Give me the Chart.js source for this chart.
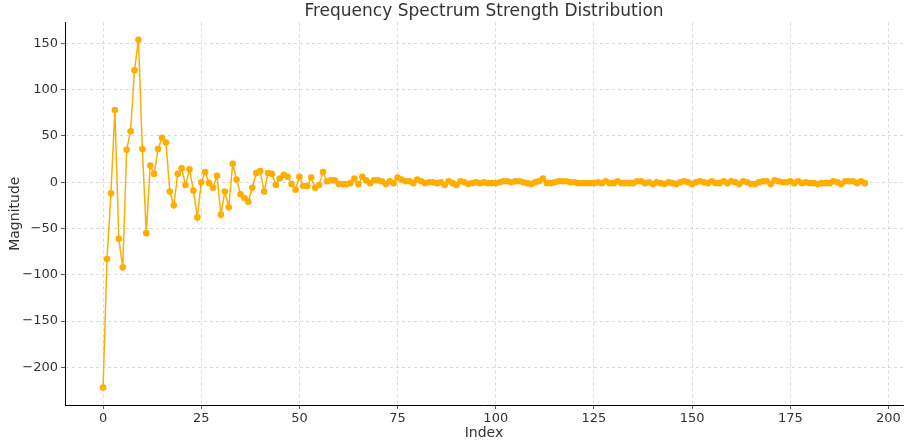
<!DOCTYPE html>
<html lang="en">
<head>
  <meta charset="UTF-8">
  <title>Frequency Spectrum Strength Distribution</title>
  <script src="https://cdn.jsdelivr.net/npm/chart.js"></script>
  <style>
    body { margin: 0; background: #fff; font-family: "DejaVu Sans", sans-serif; }
    #wrap { width: 904px; height: 442px; }
  </style>
</head>
<body>
  <div id="wrap"><canvas id="spectrumChart" width="904" height="442"></canvas></div>
  <script>
    // magnitude per index
    const magnitudes = [
      -222, -83, -12, 78, -61, -92, 35, 55, 121, 154,
      36, -55, 18, 9, 36, 48, 43, -10, -25, 9,
      15, -3, 14, -9, -38, 0, 11, -1, -6, 7,
      -35, -10, -27, 20, 3, -13, -17, -21, -6, 10,
      12, -10, 10, 9, -3, 4, 8, 6, -2, -8,
      6, -4, -4, 5, -6, -3, 11, 1, 2, 2,
      -2, -2, -2, -1, 4, -2, 6, 2, -1, 2,
      2, 1, -2, 1, -1, 5, 3, 1, 1, -1,
      3, 1, -1, 0, 0, -1, 0, -3, 1, -1,
      -3, 1, 0, -2, -1, 0, -1, 0, -1, -1,
      -1, 0, 1, 1, 0, 1, 1, 0, -1, -2,
      0, 1, 4, -1, -1, 0, 1, 1, 1, 0,
      0, -1, -1, -1, -1, -1, 0, -1, 1, -1,
      -1, 1, -1, -1, -1, -1, 1, 1, -1, 0,
      -2, 0, -1, -2, 0, -1, -2, 0, 1, 0,
      -2, 0, 1, 0, -1, 1, -1, -1, 1, -1,
      1, 0, -2, 1, 0, -2, -2, 0, 1, 1,
      -2, 2, 1, 0, 0, 1, -1, 1, -1, 0,
      -1, -1, -2, -1, -1, -1, 1, 0, -2, 1,
      1, 1, -1, 1, -1
    ];
    const indices = magnitudes.map((v, i) => i);
    const xTicks = [0, 25, 50, 75, 100, 125, 150, 175, 200];
    const yTicks = [-200, -150, -100, -50, 0, 50, 100, 150];

    const points = indices.map((x, i) => ({ x: x, y: magnitudes[i] }));
    const lineColor = 'rgb(255, 174, 0)';
    const gridColor = 'rgba(176, 176, 176, 0.6)';
    const fmt = v => String(v).replace('-', '\u2212');

    Chart.defaults.font.family = '"DejaVu Sans", sans-serif';

    new Chart(document.getElementById('spectrumChart'), {
      type: 'line',
      data: {
        datasets: [{
          label: 'Magnitude',
          data: points,
          borderColor: lineColor,
          backgroundColor: lineColor,
          borderWidth: 1.5,
          pointRadius: 3.3,
          pointHoverRadius: 3.3,
          pointBorderWidth: 0,
          tension: 0,
          fill: false
        }]
      },
      options: {
        responsive: false,
        animation: false,
        layout: { autoPadding: false, padding: { left: 0, right: 1, top: 1, bottom: 0 } },
        plugins: {
          legend: { display: false },
          tooltip: { enabled: false },
          title: {
            display: true,
            fullSize: false,
            text: 'Frequency Spectrum Strength Distribution',
            color: '#333',
            font: { size: 17, weight: 'normal' },
            padding: { top: 0, bottom: 1 }
          }
        },
        scales: {
          x: {
            type: 'linear',
            min: -9.7,
            max: 203.7,
            afterBuildTicks: s => { s.ticks = xTicks.map(v => ({ value: v })); },
            afterFit: s => { s.height = 37; s.paddingLeft = 0; s.paddingRight = 0; },
            ticks: { color: '#333', font: { size: 13 }, padding: 2, maxRotation: 0, callback: fmt },
            grid: { color: gridColor, lineWidth: 0.8, tickColor: '#333', tickLength: 4, tickBorderDash: [] },
            border: { display: true, color: '#000', width: 1, dash: [3, 3] },
            title: { display: true, text: 'Index', color: '#333', font: { size: 14 }, padding: { top: 0, bottom: 0 } }
          },
          y: {
            min: -240.8,
            max: 172.8,
            afterBuildTicks: s => { s.ticks = yTicks.map(v => ({ value: v })); },
            afterFit: s => { s.width = 65; },
            ticks: { color: '#333', font: { size: 13 }, padding: 3, callback: fmt },
            grid: { color: gridColor, lineWidth: 0.8, tickColor: '#333', tickLength: 4, tickBorderDash: [] },
            border: { display: true, color: '#000', width: 1, dash: [3, 3] },
            title: { display: true, text: 'Magnitude', color: '#333', font: { size: 14 }, padding: { top: 7, bottom: 0 } }
          }
        }
      }
    });
  </script>
</body>
</html>
